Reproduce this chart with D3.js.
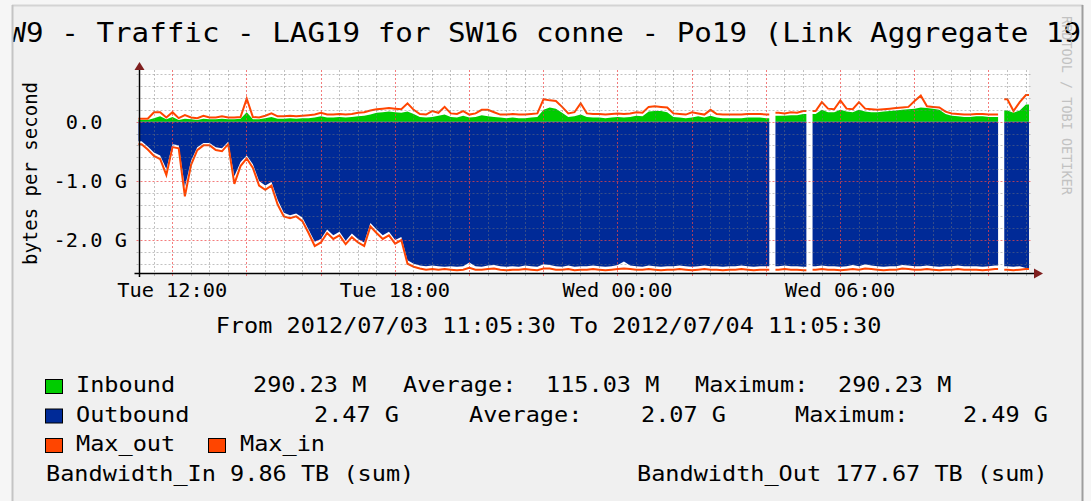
<!DOCTYPE html>
<html>
<head>
<meta charset="utf-8">
<script src="https://cdn.jsdelivr.net/npm/d3@7"></script>
<style>
  html, body { margin: 0; padding: 0; background: #f6f6f6; }
  text { font-family: "DejaVu Sans Mono", monospace; fill: #000; }
</style>
</head>
<body>
<svg id="chart" width="1091" height="501"></svg>
<script>
// Series values in G bytes per second, one value per 10 minutes,
// starting 2012/07/03 11:05:30. Outbound is drawn below zero. null = no data.
var inboundAvg = [
  0.03, 0.03, 0.06, 0.09, 0.04, 0.08, 0.03, 0.05, 0.04, 0.03, 0.05, 0.04,
  0.04, 0.05, 0.04, 0.04, 0.05, 0.16, 0.04, 0.04, 0.06, 0.08, 0.05, 0.05,
  0.06, 0.05, 0.06, 0.06, 0.07, 0.09, 0.07, 0.07, 0.08, 0.07, 0.08, 0.09,
  0.10, 0.12, 0.15, 0.16, 0.17, 0.16, 0.15, 0.17, 0.13, 0.08, 0.07, 0.08,
  0.10, 0.12, 0.08, 0.07, 0.10, 0.07, 0.08, 0.11, 0.09, 0.08, 0.07, 0.06,
  0.07, 0.06, 0.06, 0.07, 0.08, 0.20, 0.24, 0.22, 0.15, 0.08, 0.09, 0.12,
  0.08, 0.07, 0.07, 0.06, 0.07, 0.08, 0.07, 0.08, 0.10, 0.09, 0.17, 0.18,
  0.18, 0.16, 0.08, 0.07, 0.06, 0.07, 0.09, 0.07, 0.10, 0.07, 0.06, 0.06,
  0.06, 0.06, 0.07, 0.07, 0.07, 0.06, null, 0.10, 0.10, 0.11, 0.11, 0.13,
  null, 0.13, 0.20, 0.16, 0.16, 0.20, 0.17, 0.16, 0.20, 0.17, 0.16, 0.16,
  0.17, 0.18, 0.19, 0.20, 0.21, 0.22, 0.24, 0.23, 0.22, 0.20, 0.13, 0.10,
  0.09, 0.08, 0.08, 0.09, 0.09, 0.08, 0.08, null, 0.19, 0.15, 0.19, 0.29
];
var inboundMax = [
  0.05, 0.05, 0.16, 0.16, 0.07, 0.16, 0.06, 0.11, 0.07, 0.06, 0.10, 0.07,
  0.07, 0.09, 0.07, 0.07, 0.08, 0.39, 0.08, 0.07, 0.10, 0.14, 0.09, 0.09,
  0.10, 0.09, 0.10, 0.11, 0.12, 0.15, 0.12, 0.12, 0.13, 0.12, 0.13, 0.15,
  0.16, 0.19, 0.21, 0.22, 0.23, 0.22, 0.21, 0.31, 0.20, 0.13, 0.12, 0.18,
  0.15, 0.25, 0.14, 0.13, 0.18, 0.12, 0.14, 0.20, 0.20, 0.16, 0.12, 0.12,
  0.13, 0.12, 0.12, 0.13, 0.14, 0.38, 0.36, 0.35, 0.25, 0.14, 0.16, 0.31,
  0.14, 0.13, 0.13, 0.12, 0.13, 0.14, 0.13, 0.14, 0.16, 0.15, 0.25, 0.26,
  0.25, 0.24, 0.14, 0.13, 0.12, 0.16, 0.14, 0.12, 0.20, 0.13, 0.12, 0.12,
  0.12, 0.12, 0.13, 0.13, 0.13, 0.12, null, 0.15, 0.14, 0.16, 0.15, 0.18,
  null, 0.18, 0.33, 0.22, 0.21, 0.36, 0.22, 0.21, 0.33, 0.22, 0.21, 0.20,
  0.21, 0.22, 0.23, 0.24, 0.25, 0.35, 0.44, 0.26, 0.25, 0.24, 0.17, 0.14,
  0.13, 0.12, 0.12, 0.13, 0.13, 0.12, 0.12, null, 0.38, 0.18, 0.33, 0.45
];
var outboundAvg = [
  -0.33, -0.42, -0.52, -0.57, -0.80, -0.38, -0.40, -1.10, -0.66, -0.43, -0.36, -0.36,
  -0.43, -0.45, -0.34, -0.92, -0.68, -0.57, -0.72, -1.00, -1.08, -1.02, -1.32, -1.54,
  -1.58, -1.55, -1.62, -1.82, -2.03, -1.98, -1.82, -1.92, -1.86, -2.01, -1.89, -1.98,
  -2.04, -1.71, -1.82, -1.92, -1.86, -2.00, -1.95, -2.34, -2.40, -2.43, -2.44, -2.43,
  -2.44, -2.45, -2.44, -2.45, -2.44, -2.38, -2.44, -2.45, -2.43, -2.42, -2.44, -2.45,
  -2.44, -2.45, -2.43, -2.44, -2.45, -2.41, -2.42, -2.44, -2.45, -2.43, -2.45, -2.44,
  -2.44, -2.43, -2.44, -2.45, -2.44, -2.42, -2.36, -2.43, -2.44, -2.45, -2.43, -2.44,
  -2.45, -2.44, -2.44, -2.43, -2.44, -2.45, -2.44, -2.43, -2.44, -2.44, -2.45, -2.44,
  -2.44, -2.43, -2.44, -2.45, -2.44, -2.44, null, -2.44, -2.43, -2.44, -2.44, -2.45,
  null, -2.44, -2.43, -2.44, -2.44, -2.45, -2.44, -2.42, -2.44, -2.41, -2.43, -2.44,
  -2.45, -2.44, -2.44, -2.42, -2.43, -2.44, -2.44, -2.43, -2.44, -2.45, -2.44, -2.44,
  -2.43, -2.44, -2.44, -2.44, -2.45, -2.44, -2.43, null, -2.44, -2.45, -2.44, -2.47
];
var outboundMax = [
  -0.38, -0.47, -0.58, -0.63, -0.90, -0.43, -0.45, -1.26, -0.73, -0.48, -0.40, -0.40,
  -0.48, -0.50, -0.38, -1.05, -0.75, -0.62, -0.78, -1.08, -1.15, -1.08, -1.40, -1.60,
  -1.63, -1.60, -1.68, -1.88, -2.10, -2.04, -1.88, -1.98, -1.92, -2.07, -1.95, -2.04,
  -2.10, -1.77, -1.88, -1.98, -1.92, -2.06, -2.00, -2.40, -2.45, -2.48, -2.50, -2.49,
  -2.50, -2.49, -2.50, -2.51, -2.50, -2.47, -2.50, -2.50, -2.49, -2.48, -2.50, -2.51,
  -2.50, -2.50, -2.49, -2.50, -2.51, -2.48, -2.48, -2.50, -2.50, -2.49, -2.51, -2.50,
  -2.50, -2.49, -2.50, -2.51, -2.50, -2.49, -2.48, -2.49, -2.50, -2.50, -2.49, -2.50,
  -2.51, -2.50, -2.50, -2.49, -2.50, -2.51, -2.50, -2.49, -2.50, -2.50, -2.51, -2.50,
  -2.50, -2.49, -2.50, -2.51, -2.50, -2.50, null, -2.50, -2.49, -2.50, -2.50, -2.51,
  null, -2.50, -2.49, -2.50, -2.50, -2.51, -2.50, -2.49, -2.50, -2.48, -2.49, -2.50,
  -2.51, -2.50, -2.50, -2.48, -2.49, -2.50, -2.50, -2.49, -2.50, -2.51, -2.50, -2.50,
  -2.49, -2.50, -2.50, -2.50, -2.51, -2.50, -2.49, null, -2.50, -2.51, -2.50, -2.49
];

// Axis values and texts
var yTickValues = [0, -1, -2];
var yDomain = [-2.556, 0.873];
var startTime = new Date(2012, 6, 3, 11, 5, 30);
var endTime = new Date(2012, 6, 4, 11, 5, 30);
var stepMinutes = 10;

var titleText = "W9 - Traffic - LAG19 for SW16 conne - Po19 (Link Aggregate 19)";
var yLabelText = "bytes per second";
var periodText = "From 2012/07/03 11:05:30 To 2012/07/04 11:05:30";
var watermarkText = "RRDTOOL / TOBI OETIKER";

var legendNames = ["Inbound", "Outbound", "Max_out", "Max_in"];
var legendColors = ["#00cc00", "#002a97", "#ff4500", "#ff4500"];
var legendStats = [
  ["290.23 M", "Average:", "115.03 M", "Maximum:", "290.23 M"],
  ["2.47 G", "Average:", "2.07 G", "Maximum:", "2.49 G"]
];
var bandwidthTexts = ["Bandwidth_In 9.86 TB (sum)", "Bandwidth_Out 177.67 TB (sum)"];


// LAYOUT

var svg = d3.select("#chart");
var S = 1.07; // glyphs in the picture are a bit wider than the font
var plot = { left: 138.5, right: 1029, top: 70, bottom: 273 };

var x = d3.scaleTime().domain([startTime, endTime]).range([plot.left, plot.right]);
var y = d3.scaleLinear().domain(yDomain).range([plot.bottom, plot.top]);

// Stretched text helper
function label(g, px, py, str, size, anchor) {
  return g.append("text")
    .attr("transform", "translate(" + px + "," + py + ") scale(" + S + ",1)")
    .attr("font-size", size)
    .attr("text-anchor", anchor || "start")
    .text(str);
}

// Canvas and frame
svg.append("rect").attr("x", 12).attr("y", 5).attr("width", 1070).attr("height", 496).attr("fill", "#f0f0f0");
svg.append("line").attr("x1", 12).attr("x2", 1083).attr("y1", 5.5).attr("y2", 5.5).attr("stroke", "#d4d4d4").attr("stroke-width", 2);
svg.append("line").attr("x1", 12.5).attr("x2", 12.5).attr("y1", 5).attr("y2", 501).attr("stroke", "#c4c4c4").attr("stroke-width", 2);
svg.append("line").attr("x1", 1082.5).attr("x2", 1082.5).attr("y1", 5).attr("y2", 501).attr("stroke", "#9e9e9e").attr("stroke-width", 2);

// Title, clipped by the canvas (the reference cuts it on both sides)
svg.append("clipPath").attr("id", "canvas-clip")
  .append("rect").attr("x", 13.5).attr("y", 0).attr("width", 1068).attr("height", 501);
var titleG = svg.append("g").attr("clip-path", "url(#canvas-clip)");
label(titleG, 8.5, 42, titleText, 27.3);

// Watermark
svg.append("text")
  .attr("transform", "translate(1062,16) rotate(90)")
  .attr("font-size", 13.5)
  .style("fill", "#c2c2c2")
  .text(watermarkText);

// Plot background
svg.append("rect")
  .attr("x", plot.left).attr("y", plot.top)
  .attr("width", plot.right - plot.left).attr("height", plot.bottom - plot.top)
  .attr("fill", "#ffffff");


// SERIES

// Points sit in the middle of each 10 minute slot; a run of data is
// held out to the slot edges where it meets a gap, so gaps are one slot wide
var stepMs = stepMinutes * 60 * 1000;
function slots(vals) {
  var out = [];
  vals.forEach(function (v, i) {
    var t0 = +startTime + i * stepMs;
    if (v == null) {
      out.push({ t: t0, v: null });
      return;
    }
    if (i === 0 || vals[i - 1] == null) out.push({ t: t0, v: v });
    out.push({ t: t0 + stepMs / 2, v: v });
    if (i === vals.length - 1 || vals[i + 1] == null) out.push({ t: t0 + stepMs, v: v });
  });
  return out;
}

var area = d3.area()
  .defined(function (d) { return d.v != null; })
  .x(function (d) { return x(d.t); })
  .y0(y(0))
  .y1(function (d) { return y(d.v); });

var line = d3.line()
  .defined(function (d) { return d.v != null; })
  .x(function (d) { return x(d.t); })
  .y(function (d) { return y(d.v); });

svg.append("path").attr("d", area(slots(inboundAvg))).attr("fill", legendColors[0]);
svg.append("path").attr("d", area(slots(outboundAvg))).attr("fill", legendColors[1]);
svg.append("path").attr("d", line(slots(outboundMax)))
  .attr("fill", "none").attr("stroke", legendColors[2]).attr("stroke-width", 2);
svg.append("path").attr("d", line(slots(inboundMax)))
  .attr("fill", "none").attr("stroke", legendColors[3]).attr("stroke-width", 2);


// GRID (drawn over the data)

var grid = svg.append("g");
var minorColor = "rgba(120,120,120,0.45)";
var majorColor = "rgba(240,70,70,0.7)";

var yMinor = d3.range(-12, 5).map(function (k) { return k * 0.2; })
  .filter(function (v) { return Math.abs(v - Math.round(v)) > 0.01; });
yMinor.forEach(function (v) {
  grid.append("line").attr("x1", plot.left - 2).attr("x2", plot.right + 2)
    .attr("y1", Math.round(y(v)) + 0.5).attr("y2", Math.round(y(v)) + 0.5)
    .attr("stroke", minorColor).attr("stroke-dasharray", "2,2");
});
yTickValues.forEach(function (v) {
  grid.append("line").attr("x1", plot.left - 2).attr("x2", plot.right + 2)
    .attr("y1", Math.round(y(v)) + 0.5).attr("y2", Math.round(y(v)) + 0.5)
    .attr("stroke", majorColor).attr("stroke-dasharray", "2,2");
});

var xMinor = d3.timeMinute.every(30).range(startTime, endTime)
  .filter(function (t) { return !(t.getMinutes() === 0 && t.getHours() % 2 === 0); });
var xMajor = d3.timeHour.every(2).range(startTime, endTime);
xMinor.forEach(function (t) {
  grid.append("line").attr("x1", Math.round(x(t)) + 0.5).attr("x2", Math.round(x(t)) + 0.5)
    .attr("y1", plot.top).attr("y2", plot.bottom + 4)
    .attr("stroke", minorColor).attr("stroke-dasharray", "2,2");
});
xMajor.forEach(function (t) {
  grid.append("line").attr("x1", Math.round(x(t)) + 0.5).attr("x2", Math.round(x(t)) + 0.5)
    .attr("y1", plot.top).attr("y2", plot.bottom + 5)
    .attr("stroke", majorColor).attr("stroke-dasharray", "2,2");
});


// AXES

var arrowColor = "#7f1f1f";
svg.append("line").attr("x1", plot.left - 4).attr("x2", plot.right + 6)
  .attr("y1", plot.bottom + 0.5).attr("y2", plot.bottom + 0.5).attr("stroke", "#000").attr("stroke-width", 1.5);
svg.append("line").attr("x1", plot.left + 1).attr("x2", plot.left + 1)
  .attr("y1", plot.bottom + 4).attr("y2", plot.top - 1).attr("stroke", "#000").attr("stroke-width", 1.5);
svg.append("path")
  .attr("d", "M" + (plot.right + 5) + "," + (plot.bottom - 4.5) + "L" + (plot.right + 14) + "," + (plot.bottom + 0.5) + "L" + (plot.right + 5) + "," + (plot.bottom + 5.5) + "Z")
  .attr("fill", arrowColor);
svg.append("path")
  .attr("d", "M" + (plot.left - 4) + "," + plot.top + "L" + (plot.left + 1) + "," + (plot.top - 8) + "L" + (plot.left + 6) + "," + plot.top + "Z")
  .attr("fill", arrowColor);

// Y tick labels: "0.0" keeps two blank columns where the unit would be
var charW = 0.602 * 19 * S;
yTickValues.forEach(function (v) {
  var str = v === 0 ? "0.0" : v.toFixed(1) + " G";
  var shift = v === 0 ? 2 * charW : 0;
  label(svg, 127 - shift, y(v) + 7, str, 19, "end");
});

// X labels every 6 hours
var fmt = d3.timeFormat("%a %H:%M");
d3.timeHour.every(6).range(startTime, endTime).forEach(function (t) {
  label(svg, x(t), 297, fmt(t), 19, "middle");
});

// Y axis title
svg.append("text")
  .attr("transform", "translate(36.5,173.5) rotate(-90)")
  .attr("font-size", 19)
  .attr("text-anchor", "middle")
  .text(yLabelText);

// Period line
label(svg, 548.5, 333, periodText, 22, "middle");


// LEGEND

var rowY = [392, 421.5, 451, 480.5];
var statCols = [[253, 403, 546, 695, 838], [314, 469, 641, 795, 963]];

function box(px, row, color) {
  svg.append("rect").attr("x", px + 0.5).attr("y", rowY[row] - 12.5)
    .attr("width", 17).attr("height", 14)
    .attr("fill", color).attr("stroke", "#000").attr("stroke-width", 1);
}

box(45, 0, legendColors[0]);
label(svg, 76, rowY[0], legendNames[0], 22);
box(45, 1, legendColors[1]);
label(svg, 76, rowY[1], legendNames[1], 22);
legendStats.forEach(function (row, r) {
  row.forEach(function (s, c) { label(svg, statCols[r][c], rowY[r], s, 22); });
});
box(45, 2, legendColors[2]);
label(svg, 76, rowY[2], legendNames[2], 22);
box(208, 2, legendColors[3]);
label(svg, 240, rowY[2], legendNames[3], 22);

label(svg, 46, rowY[3], bandwidthTexts[0], 22);
label(svg, 637, rowY[3], bandwidthTexts[1], 22);
</script>
</body>
</html>
